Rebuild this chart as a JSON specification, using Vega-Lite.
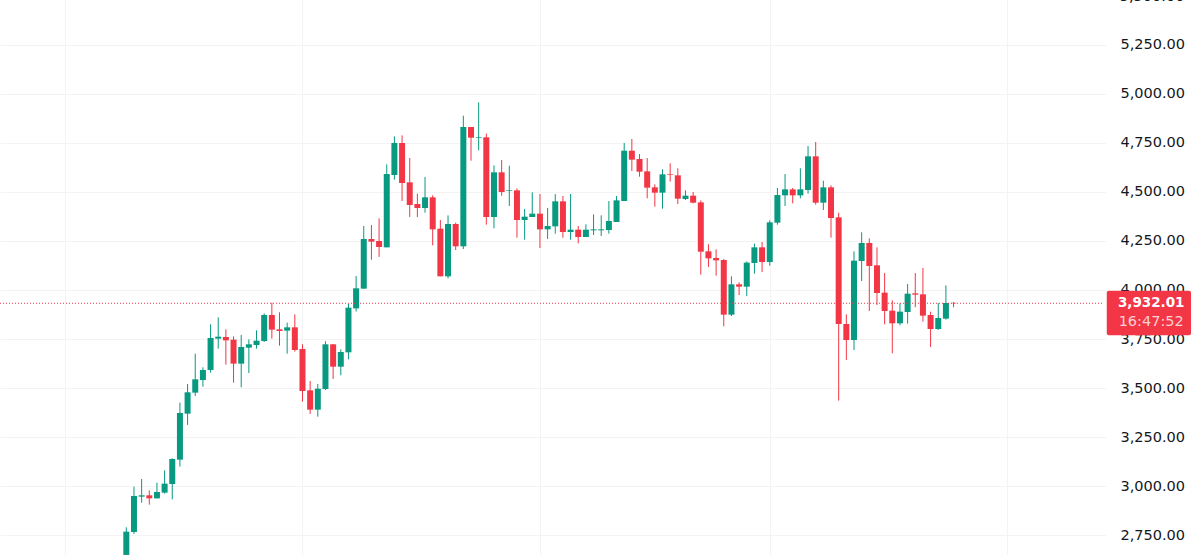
{
  "$schema": "https://vega.github.io/schema/vega-lite/v6.json",
  "width": 1106,
  "height": 565,
  "autosize": "none",
  "padding": {"left": 0, "right": 94, "top": -10, "bottom": 0},
  "background": "#ffffff",
  "datasets": {
    "candles": [
      {"t":0,"o":2650,"h":2790.6,"l":2650,"c":2768.6},
      {"t":1,"o":2766.9,"h":2997.8,"l":2756.7,"c":2950.3},
      {"t":2,"o":2946.9,"h":3036.9,"l":2916.3,"c":2953.7},
      {"t":3,"o":2953.7,"h":2979,"l":2906.1,"c":2938.4},
      {"t":4,"o":2938.4,"h":3018.2,"l":2936.7,"c":2970.6},
      {"t":5,"o":2967.2,"h":3081,"l":2962.2,"c":3013.1},
      {"t":6,"o":3011.4,"h":3142.1,"l":2933.3,"c":3138.8},
      {"t":7,"o":3135.4,"h":3425.7,"l":3099.7,"c":3373.1},
      {"t":8,"o":3369.7,"h":3520.8,"l":3312,"c":3478.4},
      {"t":9,"o":3476.7,"h":3675.3,"l":3459.7,"c":3544.6},
      {"t":10,"o":3541.2,"h":3605.7,"l":3507.2,"c":3592.1},
      {"t":11,"o":3592.1,"h":3824.7,"l":3578.5,"c":3755.1},
      {"t":12,"o":3751.7,"h":3860.4,"l":3700.8,"c":3761.9},
      {"t":13,"o":3760.2,"h":3799.3,"l":3619.3,"c":3743.2},
      {"t":14,"o":3746.6,"h":3763.6,"l":3527.6,"c":3624.4},
      {"t":15,"o":3624.4,"h":3770.4,"l":3503.8,"c":3709.3},
      {"t":16,"o":3705.9,"h":3748.3,"l":3576.8,"c":3722.9},
      {"t":17,"o":3719.5,"h":3794.2,"l":3700.8,"c":3741.5},
      {"t":18,"o":3739.8,"h":3880.8,"l":3734.7,"c":3872.3},
      {"t":19,"o":3872.3,"h":3935,"l":3751.7,"c":3797.6},
      {"t":20,"o":3799.3,"h":3885.9,"l":3716.1,"c":3790.8},
      {"t":21,"o":3792.5,"h":3833.2,"l":3675.3,"c":3809.5},
      {"t":22,"o":3809.5,"h":3875.7,"l":3685.5,"c":3694},
      {"t":23,"o":3699.1,"h":3722.9,"l":3430.8,"c":3485.1},
      {"t":24,"o":3488.5,"h":3536.1,"l":3368,"c":3390},
      {"t":25,"o":3390,"h":3520.8,"l":3354.4,"c":3497},
      {"t":26,"o":3495.3,"h":3738.1,"l":3490.2,"c":3722.9},
      {"t":27,"o":3722.9,"h":3724.6,"l":3546.3,"c":3609},
      {"t":28,"o":3609,"h":3697.4,"l":3565,"c":3683.8},
      {"t":29,"o":3682.1,"h":3928.3,"l":3646.4,"c":3909.6},
      {"t":30,"o":3906,"h":4071,"l":3890,"c":4008.2},
      {"t":31,"o":4006.5,"h":4325.7,"l":4006.5,"c":4259.5},
      {"t":32,"o":4259.5,"h":4330.8,"l":4154.2,"c":4245.9},
      {"t":33,"o":4249.3,"h":4364.7,"l":4167.8,"c":4218.7},
      {"t":34,"o":4217,"h":4639.8,"l":4217,"c":4590.6},
      {"t":35,"o":4585.5,"h":4782.4,"l":4561.7,"c":4748.5},
      {"t":36,"o":4748.5,"h":4787.5,"l":4453,"c":4544.7},
      {"t":37,"o":4548.1,"h":4672,"l":4371.5,"c":4432.7},
      {"t":38,"o":4437.8,"h":4490.4,"l":4371.5,"c":4417.4},
      {"t":39,"o":4417.4,"h":4575.3,"l":4393.6,"c":4471.7},
      {"t":40,"o":4471.7,"h":4481.9,"l":4227.2,"c":4308.7},
      {"t":41,"o":4312.1,"h":4356.2,"l":4069.3,"c":4069.3},
      {"t":42,"o":4069.3,"h":4380,"l":4059.1,"c":4335.9},
      {"t":43,"o":4335.9,"h":4342.7,"l":4203.4,"c":4222.1},
      {"t":44,"o":4222.1,"h":4887.7,"l":4208.5,"c":4830},
      {"t":45,"o":4830,"h":4830,"l":4658.5,"c":4775.7},
      {"t":46,"o":4774,"h":4955.6,"l":4711.1,"c":4777.4},
      {"t":47,"o":4777.4,"h":4796,"l":4332.5,"c":4371.5},
      {"t":48,"o":4371.5,"h":4634.7,"l":4313.8,"c":4599.1},
      {"t":49,"o":4599.1,"h":4661.9,"l":4480.2,"c":4498.9},
      {"t":50,"o":4504,"h":4633,"l":4427.6,"c":4507.4},
      {"t":51,"o":4507.4,"h":4517.6,"l":4266.3,"c":4356.2},
      {"t":52,"o":4356.2,"h":4412.3,"l":4256.1,"c":4373.2},
      {"t":53,"o":4371.5,"h":4497.2,"l":4371.5,"c":4388.5},
      {"t":54,"o":4388.5,"h":4488.7,"l":4213.6,"c":4308.7},
      {"t":55,"o":4308.7,"h":4417.4,"l":4259.5,"c":4325.7},
      {"t":56,"o":4324,"h":4488.7,"l":4286.6,"c":4451.3},
      {"t":57,"o":4451.3,"h":4478.5,"l":4266.3,"c":4295.1},
      {"t":58,"o":4295.1,"h":4488.7,"l":4256.1,"c":4307},
      {"t":59,"o":4307,"h":4325.7,"l":4237.4,"c":4269.6},
      {"t":60,"o":4269.6,"h":4334.2,"l":4269.6,"c":4307},
      {"t":61,"o":4303.6,"h":4385.1,"l":4279.8,"c":4308.7},
      {"t":62,"o":4303.6,"h":4380,"l":4274.7,"c":4308.7},
      {"t":63,"o":4305.3,"h":4453,"l":4286.6,"c":4351.1},
      {"t":64,"o":4346,"h":4478.5,"l":4346,"c":4456.4},
      {"t":65,"o":4453,"h":4748.5,"l":4453,"c":4709.4},
      {"t":66,"o":4709.4,"h":4768.9,"l":4605.8,"c":4663.6},
      {"t":67,"o":4667,"h":4692.4,"l":4577,"c":4602.4},
      {"t":68,"o":4604.1,"h":4672.1,"l":4466.6,"c":4521},
      {"t":69,"o":4522.6,"h":4537.9,"l":4424.2,"c":4495.5},
      {"t":70,"o":4495.5,"h":4614.3,"l":4414,"c":4588.9},
      {"t":71,"o":4590.6,"h":4644.9,"l":4551.5,"c":4587.2},
      {"t":72,"o":4583.8,"h":4619.4,"l":4437.7,"c":4464.9},
      {"t":73,"o":4463.2,"h":4507.4,"l":4458.1,"c":4480.2},
      {"t":74,"o":4480.2,"h":4498.9,"l":4441.1,"c":4444.5},
      {"t":75,"o":4446.2,"h":4456.4,"l":4077.8,"c":4194.9},
      {"t":76,"o":4196.6,"h":4232.3,"l":4116.8,"c":4160.9},
      {"t":77,"o":4162.6,"h":4206.8,"l":4072.7,"c":4150.8},
      {"t":78,"o":4152.5,"h":4157.6,"l":3814.6,"c":3874},
      {"t":79,"o":3874,"h":4069.3,"l":3867.2,"c":4028.5},
      {"t":80,"o":4028.5,"h":4038.7,"l":3974.2,"c":4016.6},
      {"t":81,"o":4016.6,"h":4145.7,"l":3969.1,"c":4138.9},
      {"t":82,"o":4137.2,"h":4235.7,"l":4082.9,"c":4217},
      {"t":83,"o":4217,"h":4244.2,"l":4091.4,"c":4142.3},
      {"t":84,"o":4142.3,"h":4354.5,"l":4123.6,"c":4344.3},
      {"t":85,"o":4342.6,"h":4519.3,"l":4332.4,"c":4483.6},
      {"t":86,"o":4481.9,"h":4590.6,"l":4427.6,"c":4512.4},
      {"t":87,"o":4512.4,"h":4519.3,"l":4441.1,"c":4481.9},
      {"t":88,"o":4481.9,"h":4619.4,"l":4466.6,"c":4512.4},
      {"t":89,"o":4509,"h":4733.2,"l":4490.4,"c":4680.6},
      {"t":90,"o":4680.6,"h":4753.6,"l":4434.4,"c":4444.5},
      {"t":91,"o":4444.5,"h":4556.6,"l":4407.2,"c":4522.6},
      {"t":92,"o":4522.6,"h":4532.8,"l":4266.2,"c":4366.4},
      {"t":93,"o":4369.9,"h":4393.6,"l":3436,"c":3826.5},
      {"t":94,"o":3826.5,"h":3875.7,"l":3643.1,"c":3745},
      {"t":95,"o":3745,"h":4196.7,"l":3694,"c":4149.1},
      {"t":96,"o":4147.4,"h":4293.5,"l":4045.5,"c":4239.1},
      {"t":97,"o":4239.1,"h":4262.9,"l":3892.8,"c":4122},
      {"t":98,"o":4125.4,"h":4217,"l":3923.3,"c":3984.4},
      {"t":99,"o":3986.1,"h":4086.3,"l":3824.8,"c":3892.8},
      {"t":100,"o":3894.4,"h":3947,"l":3677.1,"c":3829.9},
      {"t":101,"o":3829.9,"h":3931.8,"l":3819.7,"c":3889.3},
      {"t":102,"o":3887.6,"h":4030.3,"l":3828.2,"c":3981},
      {"t":103,"o":3982.7,"h":4086.3,"l":3911.4,"c":3975.9},
      {"t":104,"o":3977.6,"h":4111.8,"l":3838.4,"c":3868.9},
      {"t":105,"o":3872.3,"h":3889.3,"l":3709.3,"c":3801},
      {"t":106,"o":3801,"h":3933.5,"l":3796,"c":3857},
      {"t":107,"o":3853.7,"h":4023.5,"l":3848.6,"c":3933.5},
      {"t":108,"o":3934,"h":3938,"l":3911.4,"c":3932.01}
    ]
  },
  "encoding": {
    "x": {
      "field": "t",
      "type": "quantitative",
      "scale": {"domain": [-16.49, 127.9], "nice": false, "zero": false, "padding": 0},
      "axis": {
        "values": [-8, 23, 54, 84, 115],
        "grid": true,
        "gridColor": "#f3f3f3",
        "labels": false,
        "ticks": false,
        "domain": false,
        "title": null
      }
    }
  },
  "layer": [
    {
      "data": {"name": "candles"},
      "mark": {"type": "rule", "strokeWidth": 1},
      "encoding": {
        "y": {
          "field": "l",
          "type": "quantitative",
          "scale": {"domain": [2649.6, 5528], "nice": false, "zero": false},
          "axis": {
            "orient": "right",
            "values": [2750, 3000, 3250, 3500, 3750, 4000, 4250, 4500, 4750, 5000, 5250],
            "format": ",.2f",
            "grid": true,
            "gridColor": "#f3f3f3",
            "ticks": false,
            "domain": false,
            "title": null,
            "labelFont": "DejaVu Sans",
            "labelFontSize": 14.5,
            "labelColor": "#131722",
            "labelPadding": 14,
            "labelAlign": "left",
            "labelBaseline": "middle",
            "labelOverlap": false,
            "labelBound": false
          }
        },
        "y2": {"field": "h"},
        "color": {
          "condition": {"test": "datum.c >= datum.o", "value": "#089981"},
          "value": "#f23645"
        }
      }
    },
    {
      "data": {"name": "candles"},
      "mark": {"type": "bar", "size": 6, "orient": "vertical"},
      "encoding": {
        "y": {"field": "o", "type": "quantitative"},
        "y2": {"field": "c"},
        "color": {
          "condition": {"test": "datum.c >= datum.o", "value": "#089981"},
          "value": "#f23645"
        }
      }
    },
    {
      "data": {"values": [{"start": -16.49, "end": 127.6, "price": 3932.01}]},
      "mark": {"type": "rule", "color": "#f23645", "strokeWidth": 1, "strokeDash": [1, 2]},
      "encoding": {
        "x": {"field": "start", "type": "quantitative"},
        "x2": {"field": "end"},
        "y": {"field": "price", "type": "quantitative"}
      }
    },
    {
      "data": {"values": [{"pos": 129.7, "price": 5491, "label": "5,500.00"}]},
      "mark": {"type": "text", "color": "#131722", "font": "DejaVu Sans", "fontSize": 14.5, "align": "left", "clip": false},
      "encoding": {
        "x": {"field": "pos", "type": "quantitative"},
        "y": {"field": "price", "type": "quantitative"},
        "text": {"field": "label"}
      }
    },
    {
      "data": {"values": [{"left": 128, "right": 139, "top": 3996, "bottom": 3768.9}]},
      "mark": {"type": "rect", "color": "#f23645", "cornerRadius": 2, "clip": false},
      "encoding": {
        "x": {"field": "left", "type": "quantitative"},
        "x2": {"field": "right"},
        "y": {"field": "top", "type": "quantitative"},
        "y2": {"field": "bottom"}
      }
    },
    {
      "data": {"values": [{"pos": 133.8, "price": 3932, "label": "3,932.01"}]},
      "mark": {"type": "text", "color": "#ffffff", "font": "DejaVu Sans", "fontSize": 13.5, "fontWeight": "bold", "clip": false},
      "encoding": {
        "x": {"field": "pos", "type": "quantitative"},
        "y": {"field": "price", "type": "quantitative"},
        "text": {"field": "label"}
      }
    },
    {
      "data": {"values": [{"pos": 133.8, "price": 3835, "label": "16:47:52"}]},
      "mark": {"type": "text", "color": "#fcd0d4", "font": "DejaVu Sans", "fontSize": 14.5, "clip": false},
      "encoding": {
        "x": {"field": "pos", "type": "quantitative"},
        "y": {"field": "price", "type": "quantitative"},
        "text": {"field": "label"}
      }
    }
  ],
  "config": {"view": {"stroke": null}}
}
